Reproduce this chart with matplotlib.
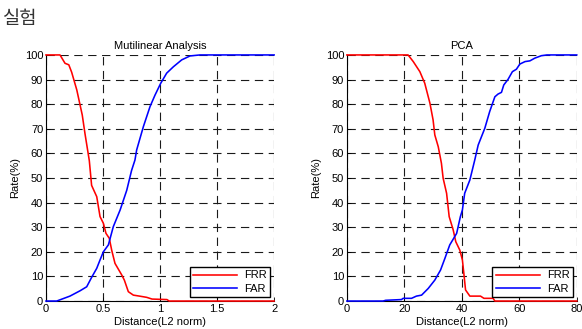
import matplotlib
matplotlib.use("Agg")
import matplotlib.pyplot as plt

plt.rcParams['font.family'] = ['Liberation Sans', 'DejaVu Sans']
plt.rcParams['lines.scale_dashes'] = False

# ---- Data: Multilinear Analysis ----
ml_frr_x = [0, 0.123, 0.167, 0.2, 0.225, 0.27, 0.318, 0.342, 0.38, 0.4, 0.445, 0.474,
            0.503, 0.526, 0.555, 0.576, 0.605, 0.664, 0.687, 0.722, 0.766, 0.82, 0.883,
            0.93, 1.06, 1.08, 2.0]
ml_frr_y = [100, 100, 96.6, 96, 93, 85.8, 75.6, 68, 57, 47, 42.4, 34.3,
            31.6, 27.5, 25.5, 20.7, 15.3, 10.6, 8.5, 3.8, 2.4, 2.0, 1.5,
            0.8, 0.6, 0, 0]
ml_far_x = [0, 0.094, 0.152, 0.21, 0.3, 0.357, 0.4, 0.445, 0.474, 0.503, 0.547, 0.59,
            0.65, 0.708, 0.75, 0.78, 0.795, 0.854, 0.912, 0.956, 1.006, 1.058, 1.117,
            1.19, 1.263, 1.35, 2.0]
ml_far_y = [0, 0, 1, 2, 4.2, 5.8, 9.6, 13.3, 16.7, 20, 22.8, 30.2,
            37, 45, 53, 57.3, 61.4, 70.9, 79, 83.7, 88.5, 92.6, 95.2,
            98, 99.6, 100, 100]

# ---- Data: PCA ----
pca_frr_x = [0, 21.3, 23.1, 25.4, 27.1, 28.9, 30, 30.6, 31.8, 32.9, 33.5, 34.7, 35.6,
             37, 37.9, 39.3, 40.2, 40.7, 41.3, 42.8, 46.5, 47.7, 50.9, 51.5, 80]
pca_frr_y = [100, 100, 97.3, 93.2, 88.5, 80.4, 73.6, 67.5, 62.7, 56, 49.9, 43.8, 34.3,
             28.9, 24.1, 20.7, 16.7, 11.3, 4.5, 2, 2, 1.1, 1.1, 0, 0]
pca_far_x = [0, 12.6, 13.5, 19, 19.6, 22.5, 24.2, 26, 28.3, 30.6, 32.6, 34.1, 35.8,
             38.2, 39.5, 40.2, 41, 41.9, 42.8, 44.5, 45.7, 48, 49.7, 51.5, 52.6,
             53.8, 54.6, 56.1, 57.6, 59, 60.2, 62, 63.7, 65.4, 67.7, 69.6, 80]
pca_far_y = [0, 0, 0.3, 0.6, 1.1, 1.1, 2, 2.4, 5.1, 8.5, 12.6, 17.3, 22.8,
             27.5, 34.3, 37, 43.8, 46.5, 49.2, 57.3, 63.4, 70.2, 77, 83, 84.1,
             84.8, 87.8, 90.1, 93.2, 94.2, 96.3, 97.3, 97.6, 98.7, 99.7, 100, 100]

titles = ["Mutilinear Analysis", "PCA"]
xlabel = "Distance(L2 norm)"
ylabel = "Rate(%)"
ml_xticks = [0, 0.5, 1, 1.5, 2]
ml_xticklabels = ["0", "0.5", "1", "1.5", "2"]
pca_xticks = [0, 20, 40, 60, 80]
yticks = [0, 10, 20, 30, 40, 50, 60, 70, 80, 90, 100]

fig = plt.figure(figsize=(5.82, 3.29), dpi=100)
fig.text(0.005, 0.945, "실험", fontsize=13.5, family=['Noto Sans CJK KR', 'DejaVu Sans'],
         fontweight='light', ha='left', va='center', color='#333333')

ax1 = fig.add_axes([0.079, 0.085, 0.392, 0.748])
ax2 = fig.add_axes([0.596, 0.085, 0.395, 0.748])

datasets = [
    (ax1, ml_frr_x, ml_frr_y, ml_far_x, ml_far_y, (0, 2), ml_xticks, ml_xticklabels),
    (ax2, pca_frr_x, pca_frr_y, pca_far_x, pca_far_y, (0, 80), pca_xticks,
     [str(t) for t in pca_xticks]),
]

for i, (ax, fx, fy, ax_, ay, xlim, xt, xtl) in enumerate(datasets):
    ax.plot(fx, fy, color='#ff0000', lw=1.15, label='FRR', zorder=3, clip_on=False)
    ax.plot(ax_, ay, color='#0000ff', lw=1.15, label='FAR', zorder=3, clip_on=False)
    ax.set_xlim(*xlim)
    ax.set_ylim(0, 100)
    ax.set_xticks(xt)
    ax.set_xticklabels(xtl)
    ax.set_yticks(yticks)
    ax.grid(True, color='#1a1a1a', linestyle=(0, (6, 4)), linewidth=0.8)
    ax.set_axisbelow(True)
    for s in ['top', 'right']:
        ax.spines[s].set_visible(False)
    for s in ['left', 'bottom']:
        ax.spines[s].set_linewidth(0.8)
    ax.tick_params(direction='in', length=3, width=0.6, labelsize=8, pad=2)
    ax.set_title(titles[i], fontsize=8, pad=4)
    ax.set_xlabel(xlabel, fontsize=8, labelpad=2)
    ax.set_ylabel(ylabel, fontsize=8, labelpad=3)
    leg = ax.legend(loc='lower right', fontsize=8, handlelength=4.0, frameon=True,
                    fancybox=False, framealpha=1, edgecolor='black',
                    borderaxespad=0.35, borderpad=0.3, labelspacing=0.3,
                    handletextpad=0.6)
    leg.get_frame().set_linewidth(1.0)

fig.savefig("out.png", dpi=100)
